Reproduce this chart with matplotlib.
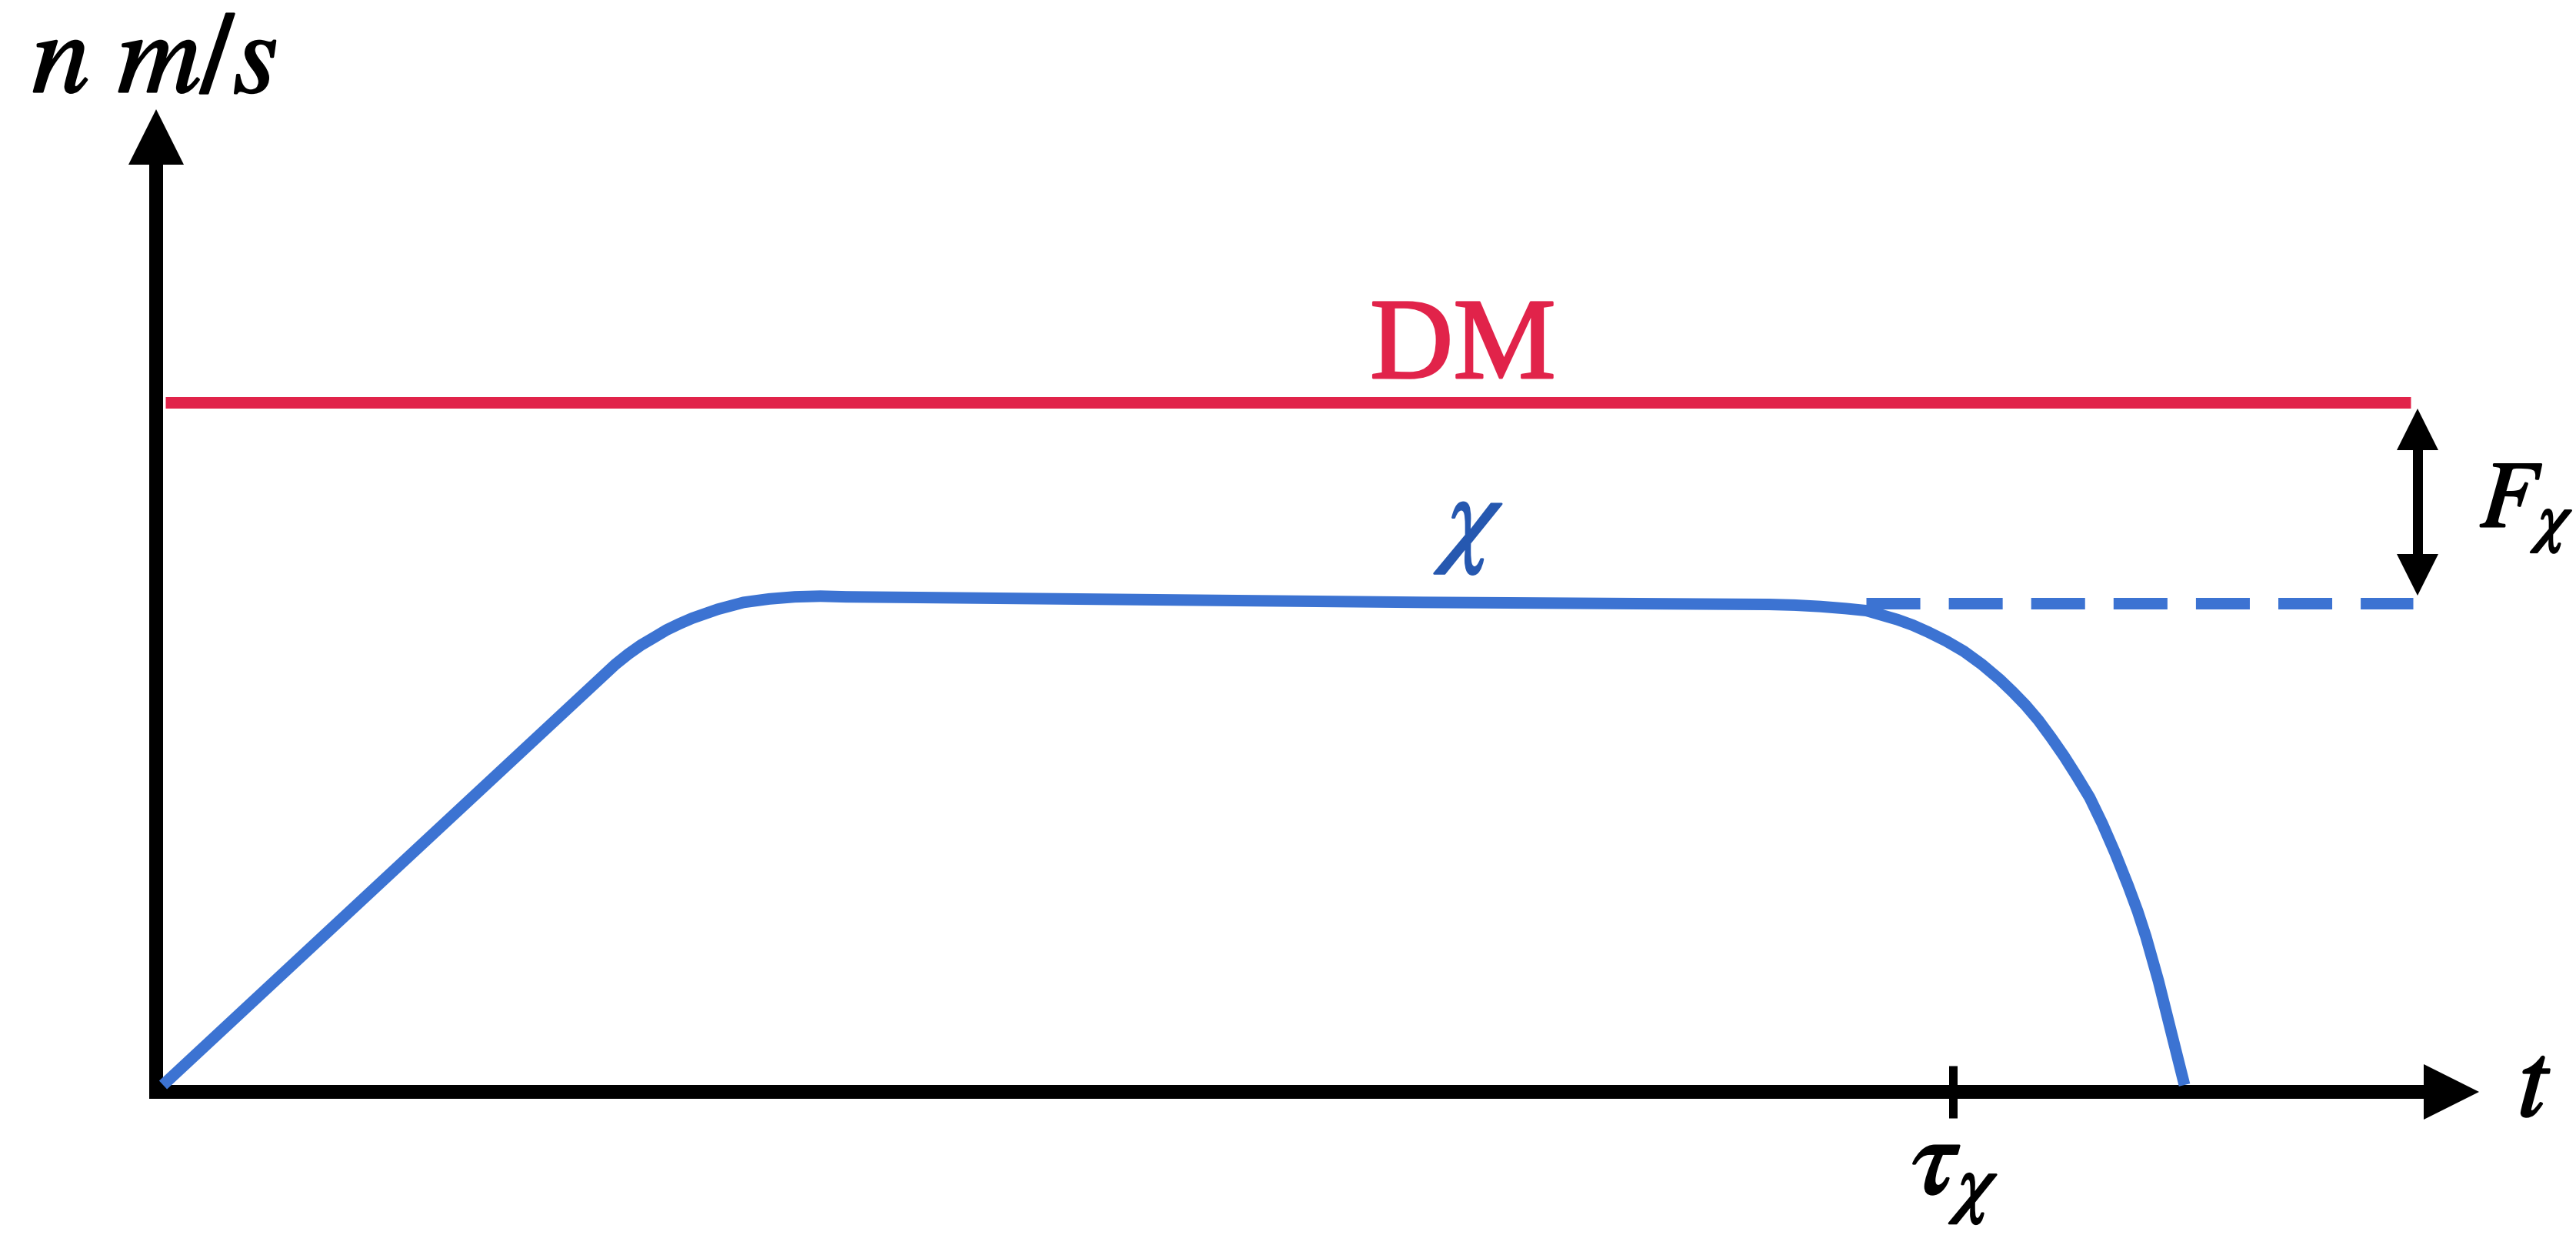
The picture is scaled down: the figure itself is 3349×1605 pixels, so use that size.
import matplotlib
matplotlib.use("Agg")
import matplotlib.pyplot as plt
import matplotlib.patheffects as pe

plt.rcParams["mathtext.fontset"] = "stix"
plt.rcParams["font.family"] = ["Liberation Serif", "DejaVu Serif"]

RED = "#E1234A"
BLUE = "#3C73D2"
BLUE_DARK = "#2658B0"

# DM abundance (flat) and the chi abundance: linear rise, plateau, late decay
dm_t = [0.04, 9.77]
dm_rate = [1.0, 1.0]

chi_t = [0.030, 1.990, 2.046, 2.101, 2.157, 2.212, 2.268, 2.323, 2.434,
         2.546, 2.657, 2.768, 2.879, 2.990, 3.323, 5.490, 6.990, 7.101,
         7.212, 7.323, 7.412, 7.479, 7.546, 7.612, 7.679, 7.757, 7.834,
         7.912, 7.990, 8.046, 8.101, 8.157, 8.212, 8.268, 8.323, 8.379,
         8.434, 8.490, 8.546, 8.587, 8.623, 8.677, 8.733, 8.790]
chi_rate = [0.010, 0.620, 0.635, 0.648, 0.659, 0.670, 0.679, 0.687, 0.700,
            0.710, 0.715, 0.718, 0.719, 0.718, 0.717, 0.710, 0.707, 0.706,
            0.704, 0.701, 0.698, 0.6915, 0.685, 0.677, 0.667, 0.654, 0.639,
            0.620, 0.598, 0.580, 0.561, 0.539, 0.514, 0.487, 0.458, 0.427,
            0.389, 0.346, 0.299, 0.262, 0.225, 0.161, 0.086, 0.010]

# frozen-out chi level continued past the decay
frozen_t = [7.41, 9.78]
frozen_rate = [0.709, 0.709]

tau_chi = 7.785
gap_top, gap_bottom = 0.99, 0.721   # F_chi double arrow between the two levels
gap_t = 9.80

# canvas: 300 px per unit of t, 896 px per unit of rate, origin at (203, 1419)
W, H, DPI = 3349, 1605, 100
PX_T, PX_R = 300.0, 896.0
X0, Y0 = 203.0, 1419.0

fig = plt.figure(figsize=(W / DPI, H / DPI), dpi=DPI)
ax = fig.add_axes([0, 0, 1, 1])
ax.set_xlim(-X0 / PX_T, (W - X0) / PX_T)
ax.set_ylim(-(H - Y0) / PX_R, Y0 / PX_R)
ax.axis("off")

px = 0.72  # points per pixel at this dpi

# axes with arrow heads
ax_lw = 18 * px
ax.plot([0, 0], [-0.01, 1.36], color="black", lw=ax_lw, solid_capstyle="butt")
ax.plot([-0.03, 9.92], [0, 0], color="black", lw=ax_lw, solid_capstyle="butt")
ax.plot([0], [1.3856], marker="^", ms=72 * px, color="black", mew=0)
ax.plot([9.945], [0], marker=">", ms=72 * px, color="black", mew=0)

# tau_chi tick
ax.plot([tau_chi, tau_chi], [-0.038, 0.038], color="black", lw=11 * px,
        solid_capstyle="butt")

line_lw = 15 * px
ax.plot(dm_t, dm_rate, color=RED, lw=line_lw, solid_capstyle="butt")
ax.plot(chi_t, chi_rate, color=BLUE, lw=line_lw, solid_joinstyle="round",
        solid_capstyle="butt")
ax.plot(frozen_t, frozen_rate, color=BLUE, lw=line_lw, dashes=(4.67, 2.47),
        dash_capstyle="butt")

# F_chi double arrow
ax.plot([gap_t, gap_t], [gap_top - 0.05, gap_bottom + 0.05], color="black",
        lw=13 * px, solid_capstyle="butt")
ax.plot([gap_t], [gap_top - 0.029], marker="^", ms=54 * px, color="black", mew=0)
ax.plot([gap_t], [gap_bottom + 0.029], marker="v", ms=54 * px, color="black", mew=0)


def label(x, y, s, size, color="black", ha="center"):
    ax.text(x, y, s, fontsize=size, color=color, ha=ha, va="baseline",
            path_effects=[pe.withStroke(linewidth=2.0, foreground=color)])


label(-0.537, 1.45, r"$n\ m/s$", 108, ha="left")
label(10.233, -0.035, r"$t$", 101, ha="left")
label(tau_chi + 0.01, -0.1473, r"$\tau_\chi$", 104)
label(5.663, 1.0357, "DM", 108, color=RED)
label(5.74, 0.7824, r"$\chi$", 104, color=BLUE_DARK)
label(10.07, 0.8192, r"$F_\chi$", 89, ha="left")

fig.savefig("out.png", dpi=DPI)
